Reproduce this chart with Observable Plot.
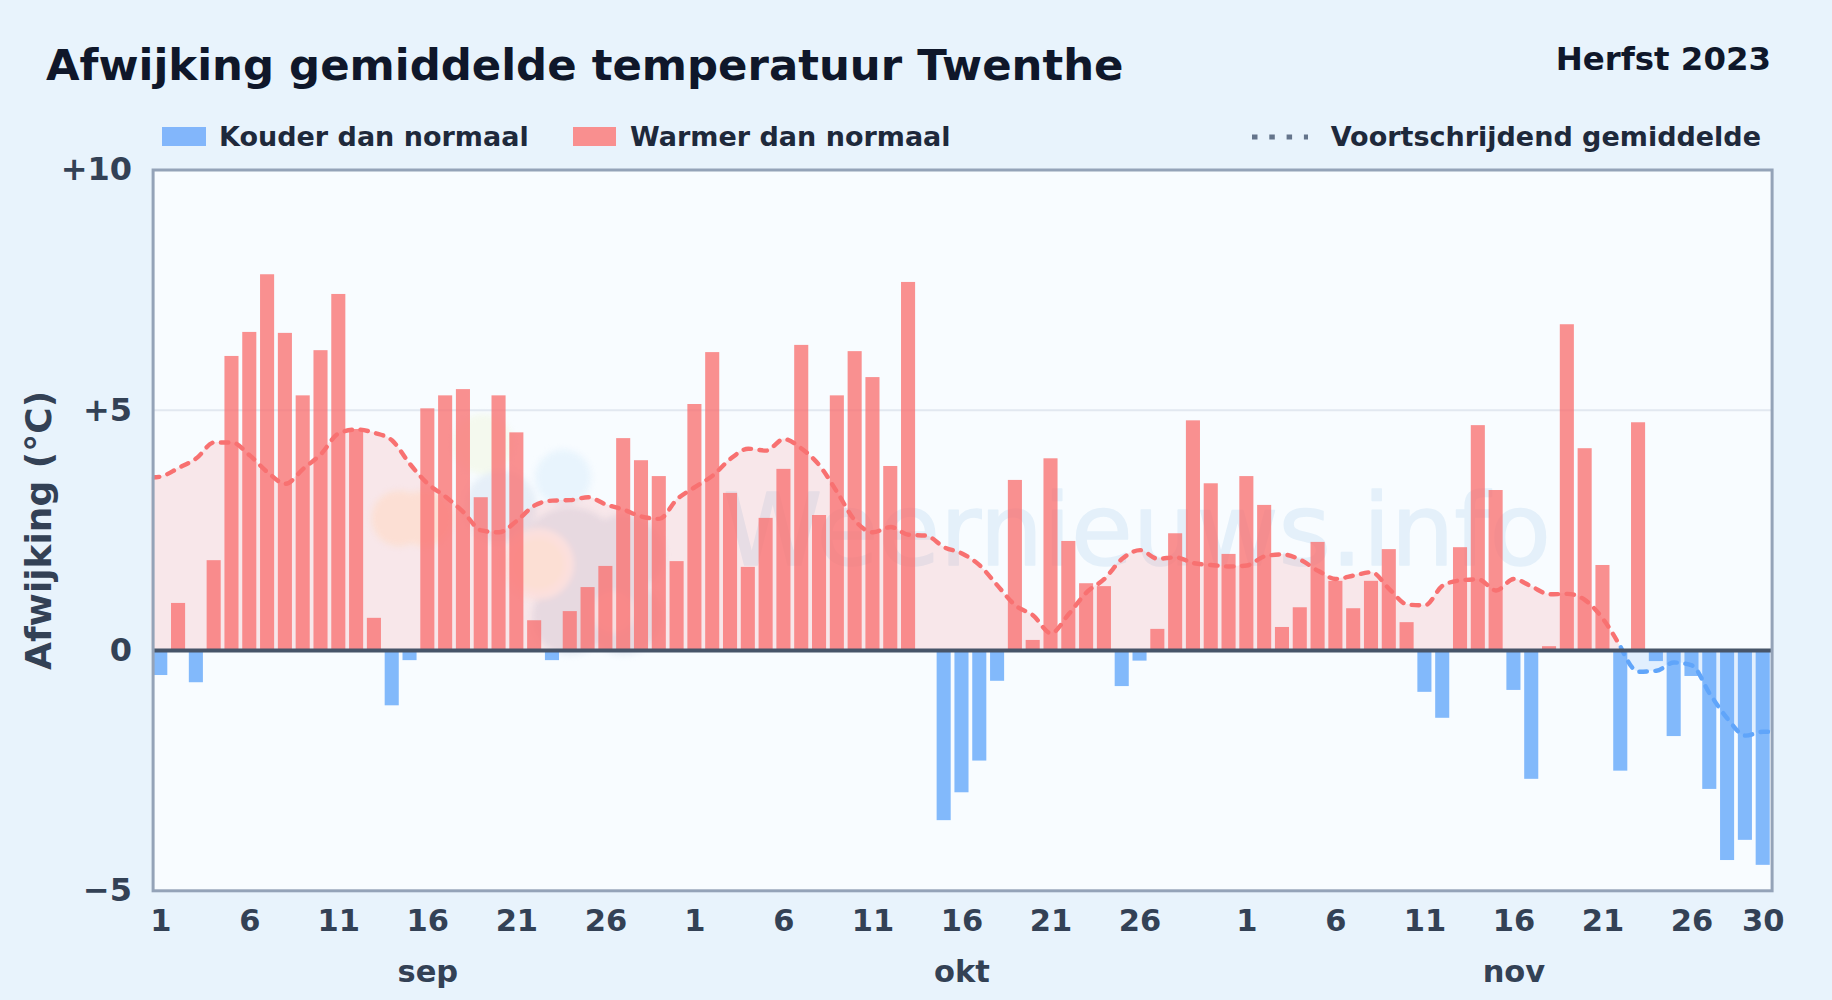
<!DOCTYPE html>
<html lang="nl">
<head>
<meta charset="utf-8">
<script src="https://cdn.jsdelivr.net/npm/d3@7"></script>
<script src="https://cdn.jsdelivr.net/npm/@observablehq/plot@0.6"></script>
<style>
  html,body{margin:0;padding:0;background:#e8f3fc;width:1832px;height:1000px;overflow:hidden;font-family:"DejaVu Sans",sans-serif;font-weight:700}
  #page{position:relative;width:1832px;height:1000px}
  .t{position:absolute;white-space:nowrap;line-height:1}
  .sw{position:absolute;top:127px;height:19px}
  #chart{position:absolute;left:0;top:130px}
</style>
</head>
<body>
<div id="page">
  <div class="t" id="title" style="left:46px;top:44px;font-size:43.4px;color:#0f172a"></div>
  <div class="t" id="season" style="right:61px;top:43px;font-size:32.4px;color:#0f172a"></div>
  <div class="sw" style="left:162px;width:44px;background:#82b6fb"></div>
  <div class="t" id="lgCold" style="left:219px;top:123px;font-size:27px;color:#1e293b"></div>
  <div class="sw" style="left:573px;width:43px;background:#f98f8f"></div>
  <div class="t" id="lgWarm" style="left:630px;top:123px;font-size:27px;color:#1e293b"></div>
  <svg style="position:absolute;left:1250px;top:130px" width="60" height="14"><line x1="2" x2="58" y1="7" y2="7" stroke="#64748b" stroke-width="5" stroke-dasharray="5.5,11.8"/></svg>
  <div class="t" id="lgAvg" style="right:71px;top:123px;font-size:27px;color:#1e293b"></div>
  <div id="chart"></div>
</div>
<script>
const titleText = "Afwijking gemiddelde temperatuur Twenthe";
const seasonText = "Herfst 2023";
const legendCold = "Kouder dan normaal";
const legendWarm = "Warmer dan normaal";
const legendAvg = "Voortschrijdend gemiddelde";
const yLabel = "Afwijking (°C)";
const watermark = "Weernieuws.info";

// daily anomaly, 1 Sep – 30 Nov 2023
const sepValues = [-0.52,0.98,-0.67,1.87,6.12,6.62,7.82,6.6,5.3,6.24,7.41,4.6,0.67,-1.15,-0.21,5.03,5.3,5.43,3.18,5.3,4.53,0.62,-0.21,0.81,1.31,1.75,4.41,3.95,3.62,1.85];
const octValues = [5.12,6.2,3.27,1.73,2.75,3.77,6.35,2.81,5.3,6.22,5.68,3.83,7.66,0,-3.54,-2.96,-2.3,-0.64,3.54,0.21,3.99,2.27,1.39,1.33,-0.75,-0.22,0.44,2.43,4.78,3.47,2.0];
const novValues = [3.62,3.02,0.48,0.89,2.25,1.44,0.87,1.44,2.1,0.58,-0.87,-1.41,2.14,4.68,3.33,-0.83,-2.68,0.08,6.78,4.2,1.77,-2.51,4.74,-0.23,-1.79,-0.54,-2.89,-4.37,-3.95,-4.47];
const anomalies = [...sepValues, ...octValues, ...novValues];

// moving average, same days
const movingAvg = [3.62,3.8,4.0,4.33,4.33,4.06,3.71,3.47,3.78,4.09,4.52,4.6,4.53,4.37,3.88,3.47,3.2,2.88,2.5,2.46,2.7,3.02,3.12,3.13,3.19,3.04,2.93,2.79,2.74,3.15,3.4,3.64,3.99,4.2,4.16,4.4,4.2,3.85,3.29,2.7,2.46,2.57,2.41,2.39,2.15,2.02,1.77,1.35,0.94,0.73,0.36,0.76,1.21,1.49,1.91,2.09,1.91,1.94,1.82,1.78,1.75,1.77,1.96,2.0,1.89,1.66,1.49,1.56,1.63,1.28,0.96,0.94,1.35,1.46,1.48,1.25,1.49,1.33,1.17,1.18,1.05,0.66,0.07,-0.44,-0.42,-0.25,-0.31,-0.9,-1.42,-1.77,-1.69];

const tickDays = [1,6,11,16,21,26, 1,6,11,16,21,26, 1,6,11,16,21,26,30];
const tickIndex = [0,5,10,15,20,25, 30,35,40,45,50,55, 61,66,71,76,81,86,90];
const monthNames = ["sep","okt","nov"];
const monthIndex = [15,45,76];
const yTicks = [-5,0,5,10];

const bars = anomalies.map((v,i)=>({i,v}));
const avgPts = [{i:-0.5,v:movingAvg[0]-0.02}, ...movingAvg.map((v,i)=>({i,v})), {i:90.5,v:movingAvg[90]}];
const warmAvg = avgPts.filter(d=>d.i<=82);
const coldAvg = avgPts.filter(d=>d.i>=82);

// faint logo shapes behind the watermark: day index, anomaly, radius, colour
const logoBlobs = [
  [18.1,4.3,30,"#f4f9ee"],[13.4,2.75,28,"#fdf3e6"],[14.8,2.75,28,"#fdf3e6"],[22.6,3.6,28,"#e8f4fd"],[19.1,3.0,36,"#e6eff8"],
  [23.0,1.9,52,"#e4ebf4"],[26.0,2.0,40,"#e4ebf4"],[23.0,0.7,38,"#e4ebf4"],[26.0,0.7,38,"#e4ebf4"],[21.2,1.8,36,"#fdf3f0"],[21.2,1.8,26,"#fdf2e5"],[25.4,0.8,22,"#f8f1f3"]
];

const fmtY = d => d>0 ? "+"+d : d<0 ? "−"+Math.abs(d) : "0";

document.getElementById("title").textContent = titleText;
document.getElementById("season").textContent = seasonText;
document.getElementById("lgCold").textContent = legendCold;
document.getElementById("lgWarm").textContent = legendWarm;
document.getElementById("lgAvg").textContent = legendAvg;

const plot = Plot.plot({
  width:1832, height:870,
  marginTop:39.5, marginBottom:109.7, marginLeft:152.6, marginRight:60.4,
  style:{fontFamily:"DejaVu Sans",fontWeight:700,background:"transparent",overflow:"visible"},
  x:{type:"linear",domain:[-0.43,90.5]},
  y:{domain:[-5,10]},
  r:{type:"identity"},
  marks:[
    Plot.frame({fill:"#f8fcff",stroke:"none"}),
    Plot.dot(logoBlobs,{x:d=>d[0],y:d=>d[1],r:d=>d[2],fill:d=>d[3],stroke:"none",imageFilter:"blur(3px)"}),
    Plot.text([watermark],{frameAnchor:"top-left",dx:570,dy:363,textAnchor:"start",lineAnchor:"middle",fontSize:100.4,fontWeight:400,fill:"#e4f0fa",stroke:"#e4f0fa",strokeWidth:1.5,fontFamily:"DejaVu Sans"}),
    Plot.ruleY([5],{stroke:"#e2e8f0",strokeWidth:2}),
    Plot.areaY(warmAvg,{x:"i",y1:0,y2:"v",curve:"monotone-x",fill:"#f87171",fillOpacity:0.15}),
    Plot.areaY(coldAvg,{x:"i",y1:0,y2:"v",curve:"monotone-x",fill:"#60a5fa",fillOpacity:0.15}),
    Plot.rectY(bars,{x1:d=>d.i-0.395,x2:d=>d.i+0.395,y1:0,y2:"v",fill:d=>d.v<0?"#60a5fa":"#f87171",fillOpacity:0.78}),
    Plot.line(warmAvg,{x:"i",y:"v",curve:"monotone-x",stroke:"#f87171",strokeWidth:4.4,strokeDasharray:"7.5,8.5",strokeLinecap:"round",clip:true}),
    Plot.line(coldAvg,{x:"i",y:"v",curve:"monotone-x",stroke:"#60a5fa",strokeWidth:4.4,strokeDasharray:"7.5,8.5",strokeLinecap:"round",clip:true}),
    Plot.ruleY([0],{stroke:"#475569",strokeWidth:4}),
    Plot.frame({stroke:"#94a3b8",strokeWidth:3}),
    Plot.axisY({ticks:yTicks,tickFormat:fmtY,tickSize:0,tickPadding:21,fontSize:32,fill:"#334155",label:null}),
    Plot.axisX({ticks:tickIndex,tickFormat:d=>tickDays[tickIndex.indexOf(d)],tickSize:0,tickPadding:19,fontSize:30.5,fill:"#334155",label:null}),
    Plot.text(monthNames,{x:(d,i)=>monthIndex[i],frameAnchor:"bottom",dy:91,fontSize:30.5,fill:"#334155"}),
    Plot.text([yLabel],{frameAnchor:"left",textAnchor:"middle",rotate:-90,dx:-114,fontSize:36,fill:"#334155"})
  ]
});
document.getElementById("chart").appendChild(plot);
</script>
</body>
</html>
